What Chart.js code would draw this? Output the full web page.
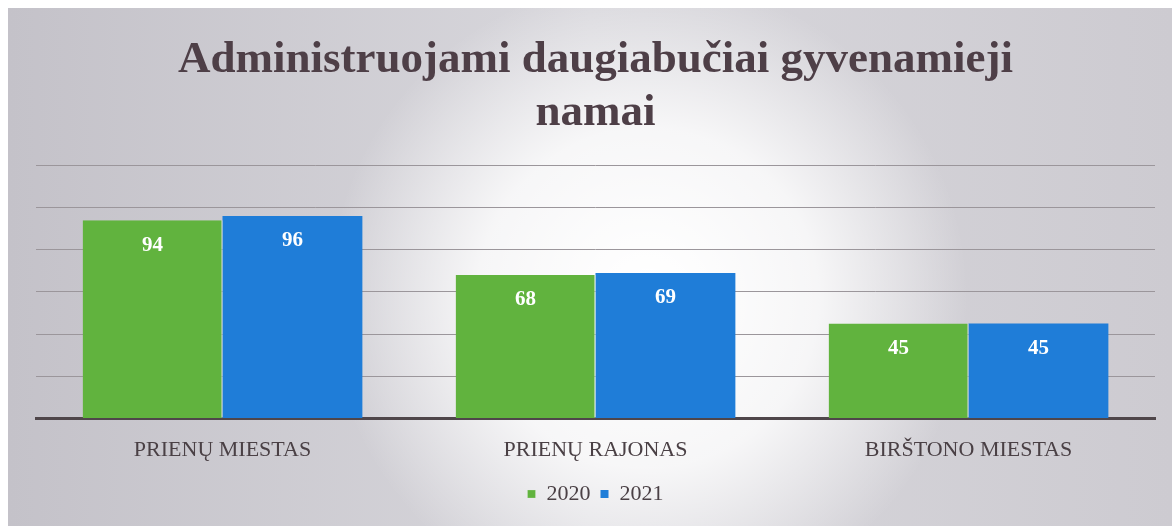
<!DOCTYPE html>
<html>
<head>
<meta charset="utf-8">
<script src="https://cdn.jsdelivr.net/npm/chart.js@4.4.1/dist/chart.umd.min.js"></script>
<style>
  html, body { margin: 0; padding: 0; background: #fff; }
  #wrap { position: absolute; left: 8px; top: 8px; width: 1164px; height: 518px; }
</style>
</head>
<body>
<div id="wrap"><canvas id="chart"></canvas></div>
<script>
const categories = ["PRIENŲ MIESTAS", "PRIENŲ RAJONAS", "BIRŠTONO MIESTAS"];
const values2020 = [94, 68, 45];
const values2021 = [96, 69, 45];
const seriesNames = ["2020", "2021"];
const titleLines = ["Administruojami daugiabučiai gyvenamieji", "namai"];

const serif = "'Liberation Serif', 'Times New Roman', serif";

// Soft gray backdrop with a white glow in the middle
const backdrop = {
  id: "backdrop",
  beforeDraw(chart) {
    const { ctx, width, height } = chart;
    ctx.save();
    const lin = ctx.createLinearGradient(0, 0, width, 0);
    lin.addColorStop(0, "#c4c2c9");
    lin.addColorStop(0.5, "#d8d7dc");
    lin.addColorStop(1, "#cdcbd1");
    ctx.fillStyle = lin;
    ctx.fillRect(0, 0, width, height);
    const rad = ctx.createRadialGradient(640, 290, 20, 640, 290, 320);
    rad.addColorStop(0, "rgba(255,255,255,1)");
    rad.addColorStop(0.5, "rgba(255,255,255,0.8)");
    rad.addColorStop(1, "rgba(255,255,255,0)");
    ctx.fillStyle = rad;
    ctx.fillRect(0, 0, width, height);
    ctx.restore();
  }
};

// White value labels just inside the top of each bar
const barLabels = {
  id: "barLabels",
  afterDatasetsDraw(chart) {
    const { ctx } = chart;
    ctx.save();
    ctx.fillStyle = "#ffffff";
    ctx.font = "bold 21px " + serif;
    ctx.textAlign = "center";
    ctx.textBaseline = "middle";
    chart.data.datasets.forEach((ds, i) => {
      chart.getDatasetMeta(i).data.forEach((bar, j) => {
        ctx.fillText(ds.data[j], bar.x, bar.y + 25);
      });
    });
    ctx.restore();
  }
};

new Chart(document.getElementById("chart"), {
  type: "bar",
  data: {
    labels: categories,
    datasets: [
      { label: seriesNames[0], data: values2020, backgroundColor: "#61b33e", borderColor: "#e8efe4", borderWidth: { right: 1 } },
      { label: seriesNames[1], data: values2021, backgroundColor: "#1f7dd8", borderWidth: 0 }
    ]
  },
  options: {
    responsive: true,
    maintainAspectRatio: false,
    animation: false,
    layout: { padding: { left: 28, right: 17, top: 0, bottom: 11 } },
    datasets: { bar: { categoryPercentage: 0.75, barPercentage: 1.0 } },
    scales: {
      x: {
        grid: { display: false },
        border: { display: true, color: "#4f464a", width: 3 },
        ticks: { color: "#4a4045", padding: 10, font: { family: serif, size: 22 } }
      },
      y: {
        min: 0,
        max: 120,
        ticks: { stepSize: 20, display: false },
        grid: { color: "#9b969b", lineWidth: 1, drawTicks: false },
        border: { display: false }
      }
    },
    plugins: {
      title: {
        display: true,
        text: titleLines,
        color: "#4e3f47",
        font: { family: serif, size: 45, weight: "bold", lineHeight: 1.17 },
        padding: { top: 26, bottom: 26 }
      },
      legend: {
        position: "bottom",
        labels: {
          color: "#4a4045",
          font: { family: serif, size: 22 },
          boxWidth: 8,
          boxHeight: 8,
          padding: 10
        }
      },
      tooltip: { enabled: false }
    }
  },
  plugins: [backdrop, barLabels]
});
</script>
</body>
</html>
